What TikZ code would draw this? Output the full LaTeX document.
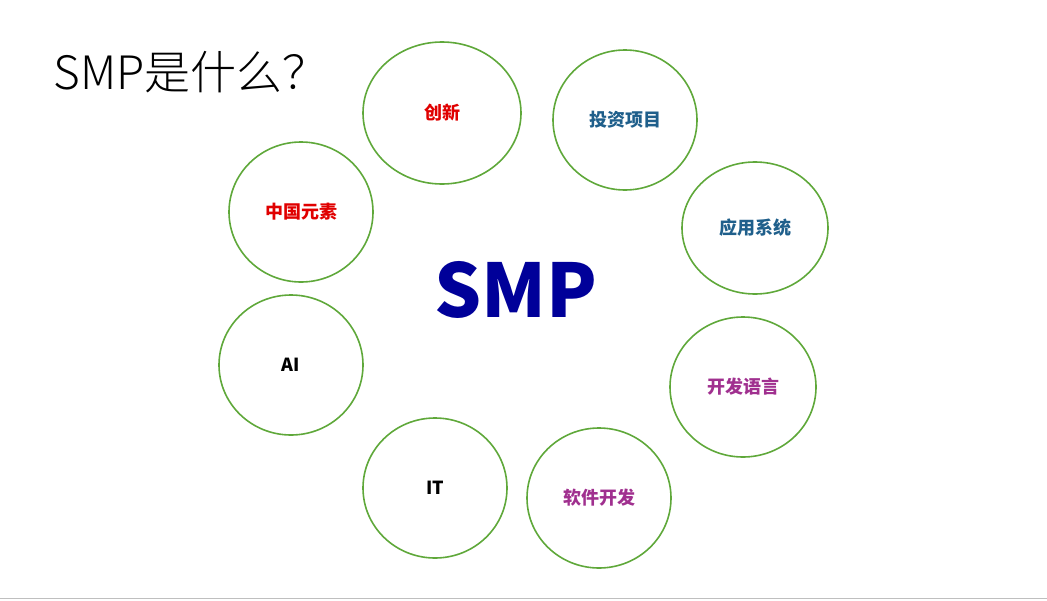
\documentclass[tikz,border=0pt]{standalone}
\usepackage{fontspec}
\setmainfont{Noto Sans CJK SC}
\newfontfamily\cjklight{Noto Sans CJK SC Light}
\begin{document}
\begin{tikzpicture}[x=1pt,y=-1pt,
  bub/.style={draw=green!50!black!70!lime, line width=1.6pt, ellipse},
  lbl/.style={font=\fontsize{18}{20}\selectfont\bfseries}]
\useasboundingbox (0,0) rectangle (1047,600);
\definecolor{cg}{HTML}{5FA83A}
\definecolor{cr}{HTML}{E00000}
\definecolor{ct}{HTML}{1F5F8B}
\definecolor{cp}{HTML}{A0308F}
\definecolor{cb}{HTML}{000099}
\draw[gray!50] (0,598) -- (1047,598);
\node[anchor=west, font=\fontsize{46}{50}\selectfont\cjklight] (title) at (50,72) {SMP是什么？};
\node[font=\fontsize{74}{80}\selectfont\bfseries, text=cb] (smp) at (516,290) {SMP};
\foreach \n/\x/\y/\rx/\ry/\c/\t in {
  a/442/113/79/71/cr/创新,
  b/625/120/72/70/ct/投资项目,
  c/755/228/73/66/ct/应用系统,
  d/743/387/73/70/cp/开发语言,
  e/599/498/72/70/cp/软件开发,
  f/435/488/72/70/black/IT,
  g/291/365/72/70/black/AI,
  h/301/212/72/70/cr/中国元素}{
  \draw[cg, line width=1.6pt] (\x,\y) ellipse [x radius=\rx, y radius=\ry];
  \node[font=\fontsize{18}{20}\selectfont\bfseries, text=\c] (\n) at (\x,\y) {\t};
}
\end{tikzpicture}
\end{document}
